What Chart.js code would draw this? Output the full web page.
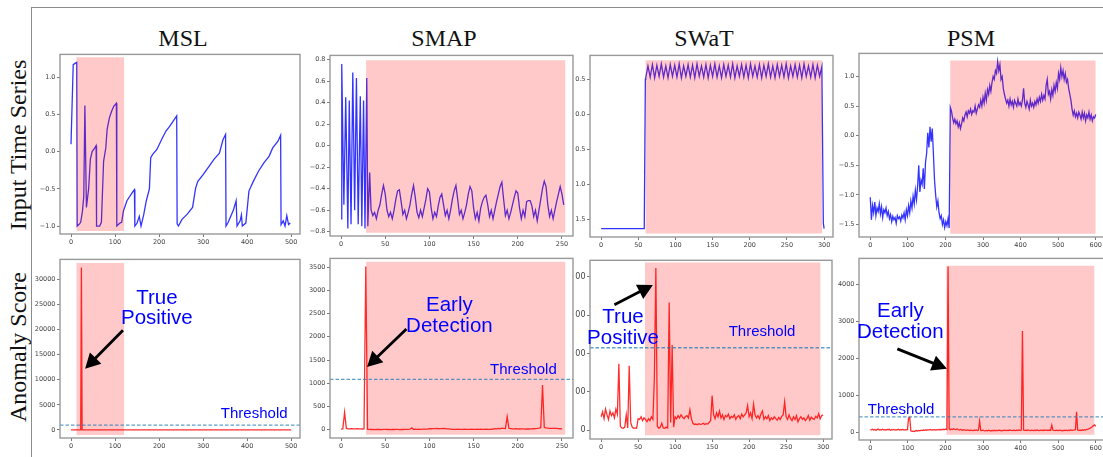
<!DOCTYPE html>
<html>
<head>
<meta charset="utf-8">
<script src="https://cdn.jsdelivr.net/npm/chart.js@4.4.1/dist/chart.umd.min.js"></script>
<style>
  html, body { margin: 0; padding: 0; background: #fff; }
  body { width: 1103px; height: 457px; position: relative; overflow: hidden; }
  .fig-frame { position: absolute; left: 31px; top: 7px; width: 1090px; height: 470px;
    border-top: 1px solid #8c8c8c; border-left: 1px solid #8c8c8c; }
  .title { position: absolute; top: 26px; font-family: 'Liberation Serif', serif; font-size: 24px;
    line-height: 1; color: #111; white-space: nowrap; transform: translateX(-50%); }
  .row-label { position: absolute; font-family: 'Liberation Serif', serif; font-size: 24px;
    line-height: 1; color: #111; white-space: nowrap; transform: translate(-50%, -50%) rotate(-90deg); }
  .panel { position: absolute; }
  .clip { position: absolute; left: 575px; top: 0; width: 528px; height: 457px; overflow: hidden; }
</style>
</head>
<body>
<div class="fig-frame"></div>
<div class="row-label" style="left:18px;top:145px">Input Time Series</div>
<div class="row-label" style="left:18px;top:347px">Anomaly Score</div>
<div class="title" style="left:183px">MSL</div>
<div class="title" style="left:444px">SMAP</div>
<div class="title" style="left:704px">SWaT</div>
<div class="title" style="left:971px">PSM</div>
<div class="clip" id="swatClip"></div>

<script>
// ── data ───────────────────────────────────────────────

// MSL input (irregular x)
const mslInputX = [0, 5, 10, 13, 14, 18, 22, 26, 29, 31.5, 35, 40, 44, 48, 54, 57, 58, 65, 69, 74, 79, 82, 87, 92, 97, 103,
  104, 111, 115, 119, 127, 139, 144, 145, 150, 155, 159, 165, 171, 178, 181, 185, 195, 208, 216, 224, 232, 240,
  241, 244, 252, 264, 276, 283, 288, 300, 313, 325, 337, 345, 351, 352, 357, 369, 375, 377, 384, 387, 389, 397,
  404, 414, 426, 438, 450, 458, 470, 476, 477, 482, 486, 490, 494, 498];
const mslInputY = [0.1, 1.17, 1.19, 1.2, -1.0, -0.98, -0.95, -0.8, -0.6, 0.62, -0.75, -0.5, -0.1, 0.0, 0.05, 0.08, -1.0,
  -1.0, -0.95, -0.13, 0.05, 0.3, 0.45, 0.54, 0.61, 0.65, -1.0, -0.96, -0.95, -0.8, -0.66, -0.55, -0.51, -1.0, -0.96,
  -0.87, -1.0, -0.85, -0.66, -0.5, -0.08, -0.04, 0.03, 0.19, 0.28, 0.34, 0.41, 0.48, -0.97, -1.0, -0.91, -0.84,
  -0.75, -0.49, -0.4, -0.31, -0.2, -0.1, -0.02, 0.16, 0.23, -1.0, -0.95, -0.78, -0.66, -1.0, -0.93, -0.85, -1.0,
  -0.96, -0.53, -0.4, -0.26, -0.15, -0.06, 0.05, 0.14, 0.22, -0.98, -0.93, -1.0, -0.86, -0.98, -0.96];
const mslScoreX = [0, 22, 23.6, 25.2, 500];
const mslScoreY = [0, 0, 32400, 0, 0];

// SMAP input: fast swings first, then every 2 steps from x=34
const smapHeadX = [0, 0.8, 3.2, 5.3, 7.7, 9.3, 11.3, 13.3, 15.4, 17.4, 19.4, 21.8, 23.5, 25.5, 27.1, 29.1, 30.3, 32.4];
const smapHeadY = [-0.68, 0.76, -0.55, 0.45, -0.77, 0.42, -0.73, 0.68, -0.6, 0.63, -0.73, 0.46, -0.75, 0.42, -0.77, 0.63, -0.75, -0.25];
const smapInputY = [
  -0.6, -0.65, -0.62, -0.68, -0.6, -0.55, -0.45, -0.37, -0.45, -0.6,
  -0.66, -0.62, -0.68, -0.6, -0.5, -0.42, -0.41, -0.52, -0.64, -0.6,
  -0.68, -0.62, -0.55, -0.45, -0.37, -0.48, -0.62, -0.67, -0.6, -0.66,
  -0.58, -0.5, -0.4, -0.43, -0.58, -0.68, -0.62, -0.66, -0.56, -0.48,
  -0.45, -0.55, -0.65, -0.6, -0.68, -0.6, -0.5, -0.42, -0.37, -0.5,
  -0.64, -0.6, -0.68, -0.62, -0.55, -0.45, -0.38, -0.42, -0.58, -0.68,
  -0.62, -0.7, -0.58, -0.52, -0.48, -0.46, -0.55, -0.66, -0.6, -0.68,
  -0.6, -0.52, -0.45, -0.38, -0.34, -0.5, -0.65, -0.6, -0.68, -0.62,
  -0.55, -0.48, -0.42, -0.44, -0.58, -0.68, -0.6, -0.66, -0.52, -0.51,
  -0.51, -0.56, -0.66, -0.6, -0.7, -0.6, -0.5, -0.4, -0.33, -0.38,
  -0.55, -0.66, -0.6, -0.68, -0.6, -0.52, -0.45, -0.38, -0.45, -0.55];
// SMAP score, every 2 steps from x=0
const smapScoreY = [
  15, 20, 378, 30, 20, 18, 22, 20, 18, 22, 19, 21, 17, 20, 3510,
  10, 8, 6, 8, 5, 7, 6, 8, 5, 7, 9, 6, 8, 5, 7, 6, 8, 7, 5, 8, 6, 9, 7, 8, 12,
  40, 10, 12, 9, 11, 10, 12, 13, 14, 16,
  25, 22, 26, 24, 28, 22, 25, 23, 27, 24, 20, 18, 15,
  10, 8, 9, 11, 8, 10, 9, 12, 8, 10, 9, 11, 10, 8, 12, 9, 11, 10, 8, 12, 10, 9, 11, 14,
  25, 20, 30, 22, 35, 28, 25, 284,
  30, 25, 20, 18, 22, 19, 17, 20, 18, 16, 19, 17, 20, 18, 22, 25, 28, 35, 45, 960,
  50, 40, 35, 30, 28, 32, 30, 28, 25, 22, 18];

// SWaT input: flat, then oscillation every 3 steps from x=60, then drop
const swatHeadX = [0, 58, 59.5];
const swatHeadY = [-1.63, -1.63, 0.5];
const swatInputY = [
  0.52, 0.69, 0.53, 0.71, 0.52, 0.70, 0.54, 0.72, 0.53, 0.69,
  0.52, 0.71, 0.54, 0.70, 0.53, 0.72, 0.52, 0.69, 0.54, 0.71,
  0.53, 0.70, 0.52, 0.72, 0.54, 0.69, 0.53, 0.71, 0.52, 0.70,
  0.54, 0.72, 0.53, 0.69, 0.52, 0.71, 0.54, 0.70, 0.53, 0.72,
  0.52, 0.69, 0.54, 0.71, 0.53, 0.70, 0.52, 0.72, 0.54, 0.69,
  0.53, 0.71, 0.52, 0.70, 0.54, 0.72, 0.53, 0.69, 0.52, 0.71,
  0.54, 0.70, 0.53, 0.72, 0.52, 0.69, 0.54, 0.71, 0.53, 0.70,
  0.52, 0.72, 0.54, 0.69, 0.53, 0.71, 0.52, 0.70, 0.54, 0.68];
const swatTailX = [299, 300];
const swatTailY = [-1.55, -1.63];
// SWaT score, every 2 steps from x=0
const swatScoreY = [
  35, 48, 30, 55, 40, 28, 50, 38, 45, 32, 55, 42, 173,
  10, 6, 5, 8, 40, 6, 168, 20, 8, 5, 6, 5,
  30, 28, 35, 25, 32, 28, 22, 30, 25, 35, 28, 137, 423,
  10, 5, 8, 18, 6, 5, 8, 6, 333, 20, 222, 8,
  35, 30, 38, 32, 40, 34, 30, 36, 38, 32, 53,
  30, 18, 15, 16, 14, 17, 15, 16, 18, 15, 17, 16, 20, 25, 90, 40,
  30, 45, 35, 50, 32, 40, 28, 38, 35, 42, 30, 36, 33, 40, 28, 35, 38, 30, 42, 35, 40, 45, 64,
  35, 45, 30, 68, 40, 32, 38, 30, 42, 50,
  28, 35, 30, 38, 25, 32, 28, 35, 30, 26, 33, 28, 36, 40, 74,
  35, 28, 40, 30, 25, 35, 28, 38, 22, 30, 35, 28, 32, 25, 30, 38, 26, 34, 30, 28, 36, 32, 43, 30, 38, 40];

// PSM input and score, every 3 steps from x=0
const psmInputY = [
  -1.04, -1.42, -1.18, -1.3, -1.12, -1.35, -1.22, -1.28, -1.15, -1.32, -1.2, -1.38, -1.25, -1.3, -1.22, -1.35, -1.28,
  -1.4, -1.33, -1.45, -1.36, -1.42, -1.38, -1.48, -1.35, -1.4, -1.37, -1.44, -1.34, -1.39, -1.3,
  -1.42, -1.25, -1.35, -1.18, -1.3, -1.1, -1.22, -1.02, -1.15, -0.92, -1.08, -0.85,
  -0.5, -0.95, -0.75, -0.82, -0.55, -0.9, -0.45,
  -0.3, 0.05, -0.2, 0.15, -0.1, 0.12, -0.3,
  -0.75, -1.0, -1.2, -1.1, -1.3, -1.4,
  -1.35, -1.5, -1.42, -1.55, -1.45, -1.52, -1.4, -1.56,
  0.48, 0.42, 0.3, 0.22, 0.28, 0.2, 0.25, 0.15, 0.22, 0.12, 0.2, 0.3, 0.25,
  0.35, 0.4, 0.32, 0.42, 0.38, 0.45, 0.36, 0.42, 0.4, 0.5, 0.38, 0.45, 0.52,
  0.48, 0.6, 0.5, 0.65, 0.55, 0.72, 0.6, 0.78, 0.7, 0.85, 0.75, 0.9, 1.0,
  0.95, 1.1, 1.05, 1.25, 1.1, 1.2, 0.95, 1.0, 0.8, 0.7, 0.62,
  0.55, 0.6, 0.5, 0.62, 0.52, 0.58, 0.48, 0.6, 0.55, 0.5, 0.62, 0.52, 0.56,
  0.5, 0.6, 0.8, 0.55, 0.48, 0.58, 0.52, 0.45, 0.6, 0.5, 0.55, 0.48, 0.58,
  0.52, 0.62, 0.55, 0.65, 0.58, 0.7, 0.6, 0.68, 0.62, 0.85, 0.95, 0.7, 0.75,
  0.62, 0.78, 0.68, 0.85, 0.75, 0.9, 0.8, 1.05, 0.95, 1.15, 1.0, 1.1, 0.95,
  1.05, 0.9, 0.95, 0.8, 0.7, 0.6, 0.45, 0.35, 0.42, 0.32, 0.38, 0.3, 0.4,
  0.35, 0.28, 0.4, 0.3, 0.38, 0.25, 0.35, 0.3, 0.4, 0.28, 0.35, 0.25, 0.32, 0.3, 0.36];
const psmScoreY = [
  70, 65, 80, 60, 75, 55, 70, 85, 60, 72, 65, 80, 58, 70, 62, 75, 68, 80, 55, 72, 66, 78, 60, 70, 64, 82, 58, 72, 68, 76, 60, 70, 65, 75,
  390, 400,
  40, 25, 30, 20, 35, 45, 30, 50, 40, 55, 45, 60, 50, 65, 55, 70, 60, 75, 58, 68, 62, 72, 60, 70, 65, 75, 62, 78, 70, 80, 72, 85, 78,
  4480,
  90, 70, 85, 75, 95, 80, 70, 88, 72, 60, 75, 65, 55, 70, 60, 50, 62, 55, 48, 58, 52, 45, 55, 50, 60, 48, 58,
  300,
  50, 42, 55, 45, 38, 50, 40, 55, 45, 35, 48, 40, 52, 42, 50, 45, 55, 48, 40, 52, 45, 58, 50, 42, 55, 48, 60, 52, 45, 58, 50, 42, 55, 48, 60, 52, 58,
  2740,
  60, 50, 55, 48, 62, 52, 45, 58, 50, 42, 55, 48, 60, 52, 45, 58, 50, 55, 48, 62, 52, 58, 50, 60, 55,
  190,
  60, 52, 45, 58, 50, 42, 55, 48, 40, 52, 45, 58, 50, 42, 55, 48, 60, 52, 58, 62, 70,
  550,
  60, 50, 58, 48, 62, 55, 70, 60, 75, 80, 95, 110, 130, 150, 180, 200, 160];

// anomaly windows [xStart, xEnd, yLow, yHigh] and thresholds
const mslInputSpan = [12, 121, -1.067, 1.27];
const smapInputSpan = [28.3, 254, -0.81, 0.794];
const swatInputSpan = [59.5, 297.5, -1.70, 0.77];
const psmInputSpan = [212.5, 600, -1.656, 1.27];
const mslScoreSpan = [12, 121, -1000, 33300];
const smapScoreSpan = [28.3, 254, -107, 3613];
const swatScoreSpan = [59.2, 296.6, -13, 437];
const psmScoreSpan = [202, 597, -70, 4500];
const thresholds = { msl: 950, smap: 1082, swat: 215, psm: 416 };

// tick labels
const mslTicksX = [0, 100, 200, 300, 400, 500];
const smapTicksX = [0, 50, 100, 150, 200, 250];
const swatTicksX = [0, 50, 100, 150, 200, 250, 300];
const psmTicksX = [0, 100, 200, 300, 400, 500, 600];
const mslInputTicks = [-1.0, -0.5, 0.0, 0.5, 1.0];
const smapInputTicks = [-0.8, -0.6, -0.4, -0.2, 0.0, 0.2, 0.4, 0.6, 0.8];
const swatInputTicks = [-1.5, -1.0, -0.5, 0.0, 0.5];
const psmInputTicks = [-1.5, -1.0, -0.5, 0.0, 0.5, 1.0];
const mslScoreTicks = [0, 5000, 10000, 15000, 20000, 25000, 30000];
const smapScoreTicks = [0, 500, 1000, 1500, 2000, 2500, 3000, 3500];
const swatScoreTicks = [0, 100, 200, 300, 400];
const psmScoreTicks = [0, 1000, 2000, 3000, 4000];

// ── helpers ────────────────────────────────────────────
const paired = (xs, ys) => xs.map((x, i) => ({ x, y: ys[i] }));
const stepped = (x0, dx, ys) => ys.map((y, i) => ({ x: x0 + i * dx, y }));
const fmt = (v, d) => (v < -1e-9 ? '\u2212' : '') + Math.abs(v).toFixed(d);

const BLUE = 'rgba(0,0,255,0.8)';
const RED = 'rgba(255,0,0,0.82)';
const SHADE = 'rgba(255,0,0,0.21)';
const TICK_COLOR = '#444';
const AXW = 45, AXH = 22, PAD = 4;

const notesPlugin = {
  id: 'notes',
  afterDraw(chart) {
    const { ctx, chartArea: a, scales: { x, y } } = chart;
    const notes = chart.$notes;
    ctx.save();
    ctx.strokeStyle = '#999';
    ctx.lineWidth = 1.4;
    ctx.strokeRect(a.left, a.top, a.right - a.left, a.bottom - a.top);
    if (notes) {
      notes.arrows.forEach(([x0, y0, x1, y1]) => {
        const px0 = x.getPixelForValue(x0), py0 = y.getPixelForValue(y0);
        const px1 = x.getPixelForValue(x1), py1 = y.getPixelForValue(y1);
        const ang = Math.atan2(py1 - py0, px1 - px0), len = Math.hypot(px1 - px0, py1 - py0);
        const hl = 15, hw = 8, sw = 1.4;
        ctx.save();
        ctx.translate(px0, py0);
        ctx.rotate(ang);
        ctx.beginPath();
        ctx.moveTo(0, -sw); ctx.lineTo(len - hl, -sw); ctx.lineTo(len - hl, -hw);
        ctx.lineTo(len, 0); ctx.lineTo(len - hl, hw); ctx.lineTo(len - hl, sw); ctx.lineTo(0, sw);
        ctx.closePath();
        ctx.fillStyle = '#000';
        ctx.fill();
        ctx.restore();
      });
      ctx.fillStyle = '#0000ff';
      ctx.textAlign = 'center';
      ctx.textBaseline = 'alphabetic';
      notes.texts.forEach(([str, tx, ty, size]) => {
        ctx.font = size + 'px "Liberation Sans", Arial, sans-serif';
        ctx.fillText(str, x.getPixelForValue(tx), y.getPixelForValue(ty));
      });
    }
    ctx.restore();
  }
};

function drawPanel(p) {
  const [l, t, r, b] = p.spine;
  const w = r - l + AXW + PAD, h = b - t + PAD + AXH;
  const parent = p.clip ? document.getElementById('swatClip') : document.body;
  const offX = p.clip ? 575 : 0;
  const canvas = document.createElement('canvas');
  canvas.className = 'panel';
  canvas.width = w; canvas.height = h;
  canvas.style.left = (l - AXW - offX) + 'px';
  canvas.style.top = (t - PAD) + 'px';
  canvas.style.width = w + 'px';
  canvas.style.height = h + 'px';
  parent.appendChild(canvas);

  const axis = (lim, ticks, dec, isX, size) => ({
    type: 'linear', min: lim[0], max: lim[1],
    afterFit: s => { if (isX) s.height = AXH; else s.width = AXW; },
    afterBuildTicks: s => { s.ticks = ticks.map(v => ({ value: v })); },
    ticks: { autoSkip: false, maxRotation: 0, padding: 1.5, color: TICK_COLOR,
      font: { family: 'DejaVu Sans', size: size || 6.5 }, callback: v => fmt(v, dec) },
    grid: { drawOnChartArea: false, tickLength: 3, color: '#555', lineWidth: 0.8 },
    border: { display: false }
  });

  const datasets = [
    { data: p.series, borderColor: p.color, borderWidth: 1.3, pointRadius: 0, fill: false, order: 3 },
    { data: [{ x: p.span[0], y: p.span[3] }, { x: p.span[1], y: p.span[3] }], borderWidth: 0,
      borderColor: 'rgba(0,0,0,0)', backgroundColor: SHADE, fill: { value: p.span[2] }, pointRadius: 0, order: 2 }
  ];
  if (p.threshold !== undefined) {
    datasets.push({ data: [{ x: p.x[0], y: p.threshold }, { x: p.x[1], y: p.threshold }],
      borderColor: 'rgba(31,119,180,0.72)', borderWidth: 1.3, borderDash: [3.5, 2], pointRadius: 0, fill: false, order: 1 });
  }

  const chart = new Chart(canvas, {
    type: 'line',
    data: { datasets },
    options: {
      responsive: false, animation: false, events: [],
      layout: { padding: { top: PAD, right: PAD, left: 0, bottom: 0 } },
      plugins: { legend: { display: false }, tooltip: { enabled: false } },
      scales: { x: axis(p.x, p.xTicks, 0, true), y: axis(p.y, p.yTicks, p.dec, false, p.ySize) }
    },
    plugins: [notesPlugin]
  });
  chart.$notes = p.notes;
  chart.draw();
}

const xMsl = [-25, 520], xSmap = [-12.5, 262.5], xSwat = [-15, 312], xPsm = [-30, 630];
const big = 20.5, small = 15;

// top row: input series
drawPanel({ spine: [60, 53, 300, 234], x: xMsl, xTicks: mslTicksX, y: [-1.107, 1.307], yTicks: mslInputTicks, dec: 1,
  color: BLUE, series: paired(mslInputX, mslInputY), span: mslInputSpan });
drawPanel({ spine: [330, 54, 573, 236], x: xSmap, xTicks: smapTicksX, y: [-0.84, 0.84], yTicks: smapInputTicks, dec: 1,
  color: BLUE, series: paired(smapHeadX, smapHeadY).concat(stepped(34, 2, smapInputY)), span: smapInputSpan });
drawPanel({ spine: [590, 54, 833, 237], x: xSwat, xTicks: swatTicksX, y: [-1.75, 0.84], yTicks: swatInputTicks, dec: 1,
  color: BLUE, clip: true,
  series: paired(swatHeadX, swatHeadY).concat(stepped(60, 3, swatInputY), paired(swatTailX, swatTailY)), span: swatInputSpan });
drawPanel({ spine: [859, 52, 1107, 237], x: xPsm, xTicks: psmTicksX, y: [-1.71, 1.39], yTicks: psmInputTicks, dec: 1,
  color: BLUE, series: stepped(0, 3, psmInputY), span: psmInputSpan });

// bottom row: anomaly scores
drawPanel({ spine: [60, 258, 300, 438], x: xMsl, xTicks: mslTicksX, y: [-1620, 34020], yTicks: mslScoreTicks, dec: 0,
  color: RED, series: paired(mslScoreX, mslScoreY), span: mslScoreSpan, threshold: thresholds.msl,
  notes: { texts: [['True', 195, 25200, big], ['Positive', 195, 21120, big], ['Threshold', 416, 2280, small]],
           arrows: [[118, 19900, 32, 12200]] } });
drawPanel({ spine: [330, 257, 573, 438], x: xSmap, xTicks: smapTicksX, y: [-177, 3686], yTicks: smapScoreTicks, dec: 0,
  color: RED, series: stepped(0, 2, smapScoreY), span: smapScoreSpan, threshold: thresholds.smap,
  notes: { texts: [['Early', 122.6, 2560, big], ['Detection', 122.6, 2100, big], ['Threshold', 206.4, 1195, small]],
           arrows: [[74, 2170, 29.4, 1350]] } });
drawPanel({ spine: [590, 258, 832, 439], x: xSwat, xTicks: swatTicksX, y: [-23, 443], yTicks: swatScoreTicks, dec: 0,
  ySize: 8, color: RED, clip: true, series: stepped(0, 2, swatScoreY), span: swatScoreSpan, threshold: thresholds.swat,
  notes: { texts: [['True', 29.6, 279.6, big], ['Positive', 29.6, 223.9, big], ['Threshold', 217.4, 245, small]],
           arrows: [[18, 327, 70, 378.6]] } });
drawPanel({ spine: [859, 257, 1107, 440], x: xPsm, xTicks: psmTicksX, y: [-210, 4700], yTicks: psmScoreTicks, dec: 0,
  color: RED, series: stepped(0, 3, psmScoreY), span: psmScoreSpan, threshold: thresholds.psm,
  notes: { texts: [['Early', 80, 3104, big], ['Detection', 80, 2539, big], ['Threshold', 82, 489, small]],
           arrows: [[72, 2255, 204, 1718]] } });
</script>
</body>
</html>
